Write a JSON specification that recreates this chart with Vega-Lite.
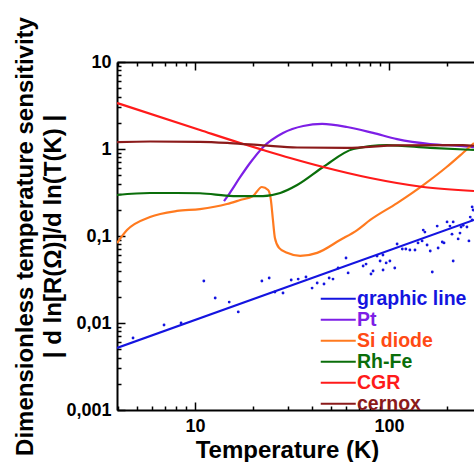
{
  "$schema": "https://vega.github.io/schema/vega-lite/v6.json",
  "width": 357,
  "height": 348,
  "autosize": "none",
  "padding": {"left": 117, "top": 62, "right": 0, "bottom": 52},
  "background": "white",
  "config": {
    "view": {"stroke": null},
    "axis": {
      "domainColor": "black",
      "domainWidth": 2,
      "tickColor": "black",
      "tickWidth": 1.5,
      "grid": false,
      "labelFont": "Liberation Sans",
      "labelFontWeight": "bold",
      "labelFontSize": 18,
      "labelColor": "black",
      "titleFont": "Liberation Sans",
      "titleFontWeight": "bold",
      "titleFontSize": 24,
      "titleColor": "black"
    },
    "legend": {
      "orient": "none",
      "legendX": 211.5,
      "legendY": 227,
      "padding": 0,
      "symbolType": "M-2.5,0H2.5",
      "symbolSize": 196,
      "symbolStrokeWidth": 2,
      "labelFont": "Liberation Sans",
      "labelFontWeight": "bold",
      "labelFontSize": 19.5,
      "labelOffset": 9,
      "rowPadding": 0,
      "labelLimit": 300
    }
  },
  "datasets": {
    "curves": [
      {"s": "graphic line", "T": 3.96, "S": 0.00516},
      {"s": "graphic line", "T": 274, "S": 0.153},
      {"s": "Pt", "T": 14.1, "S": 0.252},
      {"s": "Pt", "T": 15.1, "S": 0.312},
      {"s": "Pt", "T": 17.1, "S": 0.477},
      {"s": "Pt", "T": 19.2, "S": 0.69},
      {"s": "Pt", "T": 22.4, "S": 1.05},
      {"s": "Pt", "T": 28.4, "S": 1.53},
      {"s": "Pt", "T": 36.1, "S": 1.84},
      {"s": "Pt", "T": 45.2, "S": 1.94},
      {"s": "Pt", "T": 60.7, "S": 1.79},
      {"s": "Pt", "T": 82.7, "S": 1.53},
      {"s": "Pt", "T": 110, "S": 1.3},
      {"s": "Pt", "T": 163, "S": 1.14},
      {"s": "Pt", "T": 240, "S": 1.08},
      {"s": "Pt", "T": 274, "S": 1.05},
      {"s": "Si diode", "T": 3.96, "S": 0.083},
      {"s": "Si diode", "T": 4.46, "S": 0.117},
      {"s": "Si diode", "T": 5.86, "S": 0.165},
      {"s": "Si diode", "T": 8.07, "S": 0.194},
      {"s": "Si diode", "T": 10.6, "S": 0.204},
      {"s": "Si diode", "T": 14.6, "S": 0.233},
      {"s": "Si diode", "T": 17.1, "S": 0.259},
      {"s": "Si diode", "T": 19.9, "S": 0.288},
      {"s": "Si diode", "T": 22.1, "S": 0.366},
      {"s": "Si diode", "T": 23.8, "S": 0.338},
      {"s": "Si diode", "T": 24.6, "S": 0.259},
      {"s": "Si diode", "T": 25.2, "S": 0.153},
      {"s": "Si diode", "T": 25.8, "S": 0.095},
      {"s": "Si diode", "T": 27.1, "S": 0.073},
      {"s": "Si diode", "T": 29.8, "S": 0.064},
      {"s": "Si diode", "T": 34.8, "S": 0.059},
      {"s": "Si diode", "T": 42.6, "S": 0.064},
      {"s": "Si diode", "T": 55.9, "S": 0.09},
      {"s": "Si diode", "T": 68.5, "S": 0.117},
      {"s": "Si diode", "T": 80, "S": 0.153},
      {"s": "Si diode", "T": 110, "S": 0.239},
      {"s": "Si diode", "T": 150, "S": 0.385},
      {"s": "Si diode", "T": 198, "S": 0.621},
      {"s": "Si diode", "T": 240, "S": 0.9},
      {"s": "Si diode", "T": 274, "S": 1.17},
      {"s": "Rh-Fe", "T": 3.96, "S": 0.296},
      {"s": "Rh-Fe", "T": 5.86, "S": 0.312},
      {"s": "Rh-Fe", "T": 8.07, "S": 0.312},
      {"s": "Rh-Fe", "T": 10.6, "S": 0.31},
      {"s": "Rh-Fe", "T": 15.7, "S": 0.288},
      {"s": "Rh-Fe", "T": 22.4, "S": 0.288},
      {"s": "Rh-Fe", "T": 27.5, "S": 0.312},
      {"s": "Rh-Fe", "T": 33.6, "S": 0.385},
      {"s": "Rh-Fe", "T": 45.8, "S": 0.621},
      {"s": "Rh-Fe", "T": 65.5, "S": 1.0},
      {"s": "Rh-Fe", "T": 97.6, "S": 1.11},
      {"s": "Rh-Fe", "T": 163, "S": 1.03},
      {"s": "Rh-Fe", "T": 274, "S": 0.975},
      {"s": "CGR", "T": 3.96, "S": 3.38},
      {"s": "CGR", "T": 10.6, "S": 1.65},
      {"s": "CGR", "T": 17.1, "S": 1.17},
      {"s": "CGR", "T": 22.4, "S": 0.975},
      {"s": "CGR", "T": 30.9, "S": 0.789},
      {"s": "CGR", "T": 45.8, "S": 0.621},
      {"s": "CGR", "T": 80, "S": 0.464},
      {"s": "CGR", "T": 150, "S": 0.366},
      {"s": "CGR", "T": 274, "S": 0.329},
      {"s": "cernox", "T": 3.96, "S": 1.2},
      {"s": "cernox", "T": 5.86, "S": 1.22},
      {"s": "cernox", "T": 10.6, "S": 1.21},
      {"s": "cernox", "T": 15.1, "S": 1.17},
      {"s": "cernox", "T": 22.4, "S": 1.1},
      {"s": "cernox", "T": 33.6, "S": 1.04},
      {"s": "cernox", "T": 60.7, "S": 1.03},
      {"s": "cernox", "T": 110, "S": 1.1},
      {"s": "cernox", "T": 240, "S": 1.11},
      {"s": "cernox", "T": 274, "S": 1.09}
    ],
    "dots": [
      {"T": 4.79, "S": 0.00673}, {"T": 6.92, "S": 0.00948}, {"T": 8.47, "S": 0.01},
      {"T": 11.1, "S": 0.0304}, {"T": 12.7, "S": 0.0194}, {"T": 15.0, "S": 0.0174},
      {"T": 16.7, "S": 0.0134}, {"T": 22.1, "S": 0.0304}, {"T": 24.1, "S": 0.0329},
      {"T": 25.8, "S": 0.0227}, {"T": 28.4, "S": 0.0221}, {"T": 31.3, "S": 0.0312},
      {"T": 34.0, "S": 0.032}, {"T": 37.3, "S": 0.0338}, {"T": 40.1, "S": 0.0252},
      {"T": 42.6, "S": 0.0288}, {"T": 46.2, "S": 0.0281}, {"T": 49.1, "S": 0.0329},
      {"T": 51.4, "S": 0.032}, {"T": 54.6, "S": 0.0429}, {"T": 60.0, "S": 0.0559},
      {"T": 61.5, "S": 0.0376}, {"T": 73.5, "S": 0.0452}, {"T": 76.1, "S": 0.0476},
      {"T": 80.7, "S": 0.0366}, {"T": 82.7, "S": 0.0396}, {"T": 86.7, "S": 0.0589},
      {"T": 89.9, "S": 0.0516}, {"T": 93.1, "S": 0.0407}, {"T": 96.6, "S": 0.049},
      {"T": 101, "S": 0.0516}, {"T": 107, "S": 0.0429}, {"T": 110, "S": 0.0809},
      {"T": 117, "S": 0.0709}, {"T": 122, "S": 0.0709}, {"T": 128, "S": 0.0691},
      {"T": 136, "S": 0.0691}, {"T": 141, "S": 0.0832}, {"T": 148, "S": 0.0877},
      {"T": 153, "S": 0.111}, {"T": 157, "S": 0.0788}, {"T": 163, "S": 0.0673},
      {"T": 167, "S": 0.0386}, {"T": 177, "S": 0.13}, {"T": 179, "S": 0.0728},
      {"T": 188, "S": 0.0853}, {"T": 192, "S": 0.0832}, {"T": 199, "S": 0.145},
      {"T": 206, "S": 0.13}, {"T": 211, "S": 0.105}, {"T": 214, "S": 0.0516},
      {"T": 214, "S": 0.145}, {"T": 227, "S": 0.0925}, {"T": 235, "S": 0.127},
      {"T": 241, "S": 0.133}, {"T": 252, "S": 0.127}, {"T": 258, "S": 0.0877},
      {"T": 268, "S": 0.153}, {"T": 271, "S": 0.199}, {"T": 232, "S": 0.108},
      {"T": 262, "S": 0.165}, {"T": 150, "S": 0.117}, {"T": 93, "S": 0.0605},
      {"T": 268, "S": 0.216}
    ]
  },
  "layer": [
    {
      "data": {"name": "dots"},
      "mark": {"type": "circle", "size": 8, "opacity": 1, "color": "#1414e0", "clip": true},
      "encoding": {
        "x": {
          "field": "T", "type": "quantitative",
          "scale": {"type": "log", "domain": [3.96, 274], "nice": false, "zero": false},
          "axis": {
            "orient": "bottom",
            "values": [4, 5, 6, 7, 8, 9, 10, 20, 30, 40, 50, 60, 70, 80, 90, 100, 200],
            "labelExpr": "datum.value == 10 || datum.value == 100 ? datum.value + '' : ''",
            "tickSize": {"condition": {"test": "datum.value == 10 || datum.value == 100", "value": -8}, "value": -4},
            "labelPadding": 15,
            "labelFlush": false,
            "labelOverlap": false,
            "title": "Temperature (K)",
            "titleX": 170,
            "titlePadding": -1
          }
        },
        "y": {
          "field": "S", "type": "quantitative",
          "scale": {"type": "log", "domain": [0.001, 10], "nice": false, "zero": false},
          "axis": {
            "orient": "left",
            "values": [0.001, 0.002, 0.003, 0.004, 0.005, 0.006, 0.007, 0.008, 0.009, 0.01, 0.02, 0.03, 0.04, 0.05, 0.06, 0.07, 0.08, 0.09, 0.1, 0.2, 0.3, 0.4, 0.5, 0.6, 0.7, 0.8, 0.9, 1, 2, 3, 4, 5, 6, 7, 8, 9, 10],
            "labelExpr": "datum.value == 0.001 ? '0,001' : datum.value == 0.01 ? '0,01' : datum.value == 0.1 ? '0,1' : datum.value == 1 ? '1' : datum.value == 10 ? '10' : ''",
            "tickSize": {"condition": {"test": "indexof([0.001, 0.01, 0.1, 1, 10], datum.value) >= 0", "value": -8}, "value": -4},
            "labelPadding": 14,
            "labelFlush": false,
            "labelOverlap": false,
            "title": ["Dimensionless temperature sensitivity", "| d ln[R(Ω)]/d ln(T(K) |"],
            "titleLineHeight": 28,
            "titlePadding": 0
          }
        }
      }
    },
    {
      "data": {"name": "curves"},
      "mark": {"type": "line", "strokeWidth": 2.2, "interpolate": "monotone", "clip": true},
      "encoding": {
        "x": {
          "field": "T", "type": "quantitative",
          "scale": {"type": "log", "domain": [3.96, 274], "nice": false, "zero": false},
          "axis": {
            "orient": "top",
            "values": [4, 5, 6, 7, 8, 9, 10, 20, 30, 40, 50, 60, 70, 80, 90, 100, 200],
            "labels": false,
            "tickSize": {"condition": {"test": "datum.value == 10 || datum.value == 100", "value": -8}, "value": -4},
            "title": null
          }
        },
        "y": {
          "field": "S", "type": "quantitative",
          "scale": {"type": "log", "domain": [0.001, 10], "nice": false, "zero": false},
          "axis": null
        },
        "color": {
          "field": "s", "type": "nominal",
          "scale": {
            "domain": ["graphic line", "Pt", "Si diode", "Rh-Fe", "CGR", "cernox"],
            "range": ["#1414e0", "#7d1fe6", "#ff7a1f", "#0a6e0a", "#ff1a1a", "#8b1a1a"]
          },
          "legend": {
            "title": null,
            "encode": {
              "labels": {
                "update": {
                  "fill": {"signal": "datum.value === 'Si diode' ? '#ff4a14' : scale('color', datum.value)"}
                }
              }
            }
          }
        }
      }
    }
  ],
  "resolve": {"axis": {"x": "independent", "y": "independent"}}
}
